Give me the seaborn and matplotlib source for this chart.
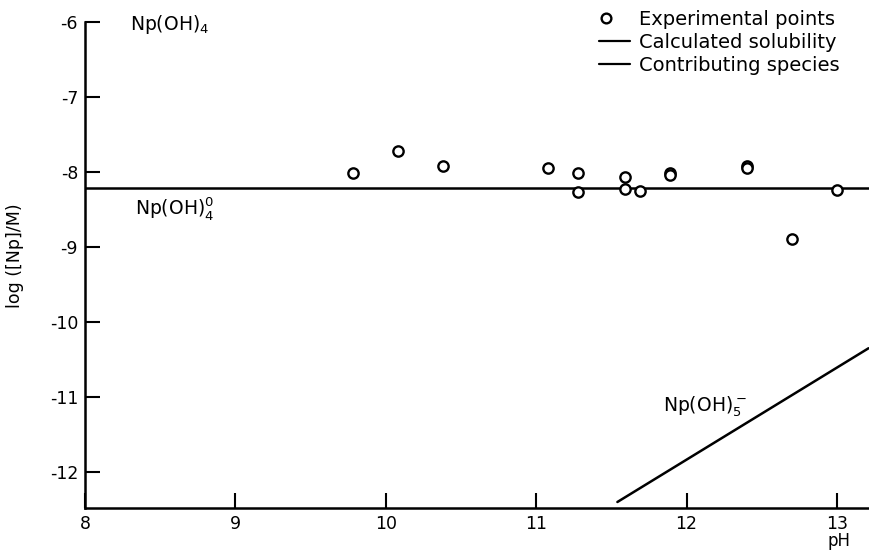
import matplotlib
matplotlib.use("Agg")
import matplotlib.pyplot as plt
from matplotlib.lines import Line2D
from matplotlib.legend_handler import HandlerLine2D
import pandas as pd
import seaborn as sns

# Measured solubility of Np(IV) hydroxide
ph_exp = [9.78, 10.08, 10.38, 11.08, 11.28, 11.28, 11.59, 11.59, 11.69,
          11.89, 11.89, 12.40, 12.40, 12.70, 13.00]
logc_exp = [-8.01, -7.72, -7.92, -7.95, -8.01, -8.27, -8.07, -8.23, -8.25,
            -8.01, -8.04, -7.92, -7.95, -8.89, -8.24]

# Calculated solubility: neutral Np(OH)4(aq) species
ph_neutral = [8.0, 13.21]
logc_neutral = [-8.21, -8.21]

# Contributing anionic species Np(OH)5-
ph_anion = [11.54, 13.21]
logc_anion = [-12.40, -10.35]

x_ticks = [8, 9, 10, 11, 12, 13]
y_ticks = [-6, -7, -8, -9, -10, -11, -12]
y_tick_labels = ["-6", "-7", "-8", "-9", "-10", "-11", "-12"]

sns.set_theme(style="ticks")
plt.rcParams["font.family"] = ["DejaVu Sans"]
plt.rcParams["mathtext.default"] = "regular"
for key in ("text.color", "axes.labelcolor", "xtick.color", "ytick.color",
            "axes.edgecolor"):
    plt.rcParams[key] = "black"

FS = 12.5
FS_TXT = 13.5


class LeftMarkerHandler(HandlerLine2D):
    """Legend handler that puts the single marker near the handle's left end."""

    def get_xdata(self, legend, xdescent, ydescent, width, height, fontsize):
        x0 = -xdescent
        return [x0, x0 + 0.42 * width], [x0 + 0.21 * width]


fig = plt.figure(figsize=(8.69, 5.5), dpi=100)
ax = fig.add_axes([85 / 869, 1 - 508 / 550, 784 / 869, 486 / 550])

exp_df = pd.DataFrame({"pH": ph_exp, "logc": logc_exp})
neu_df = pd.DataFrame({"pH": ph_neutral, "logc": logc_neutral})
ani_df = pd.DataFrame({"pH": ph_anion, "logc": logc_anion})

sns.lineplot(data=neu_df, x="pH", y="logc", ax=ax, color="black",
             linewidth=1.8, estimator=None, sort=False)
sns.lineplot(data=ani_df, x="pH", y="logc", ax=ax, color="black",
             linewidth=1.8, estimator=None, sort=False)
sns.scatterplot(data=exp_df, x="pH", y="logc", ax=ax, marker="o", s=55,
                facecolor="white", edgecolor="black", linewidth=1.7,
                zorder=5)

ax.set_xlim(8, 13.213)
ax.set_ylim(-12.48, -6)
ax.set_xticks(x_ticks)
ax.set_xticklabels([str(v) for v in x_ticks], fontsize=FS)
ax.set_yticks(y_ticks)
ax.set_yticklabels(y_tick_labels, fontsize=FS)

sns.despine(ax=ax, top=True, right=True)
for side in ("left", "bottom"):
    ax.spines[side].set_linewidth(1.8)
    ax.spines[side].set_color("black")

ax.tick_params(axis="both", direction="in", length=11, width=1.5,
               colors="black", top=False, right=False)
ax.tick_params(axis="y", pad=5)
ax.tick_params(axis="x", pad=5)

ax.set_ylabel("log ([Np]/M)", fontsize=FS)
ax.yaxis.set_label_coords(-0.078, 0.52)
ax.set_xlabel("pH", fontsize=12)
ax.xaxis.set_label_coords(0.962, -0.049)

ax.text(8.30, -6.04, "Np(OH)$_4$", fontsize=FS_TXT, ha="left", va="center")
ax.text(8.33, -8.48, "Np(OH)$_4^0$", fontsize=FS_TXT, ha="left",
        va="center")
ax.text(11.84, -11.13, "Np(OH)$_5^-$", fontsize=FS_TXT, ha="left",
        va="center")

marker_handle = Line2D([], [], marker="o", linestyle="none", markersize=7,
                       markerfacecolor="white", markeredgecolor="black",
                       markeredgewidth=1.7)
handles = [
    marker_handle,
    Line2D([], [], color="black", linewidth=1.6),
    Line2D([], [], color="black", linewidth=1.6),
]
labels = ["Experimental points", "Calculated solubility",
          "Contributing species"]
ax.legend(handles, labels, loc="upper left",
          bbox_to_anchor=(599 / 869, 1 - 10 / 550),
          bbox_transform=fig.transFigure, frameon=False, fontsize=14,
          handlelength=1.6, handletextpad=0.45, labelspacing=0.2,
          borderpad=0, borderaxespad=0,
          handler_map={marker_handle: LeftMarkerHandler(numpoints=1)})

fig.savefig("out.png", dpi=100, facecolor="white")
